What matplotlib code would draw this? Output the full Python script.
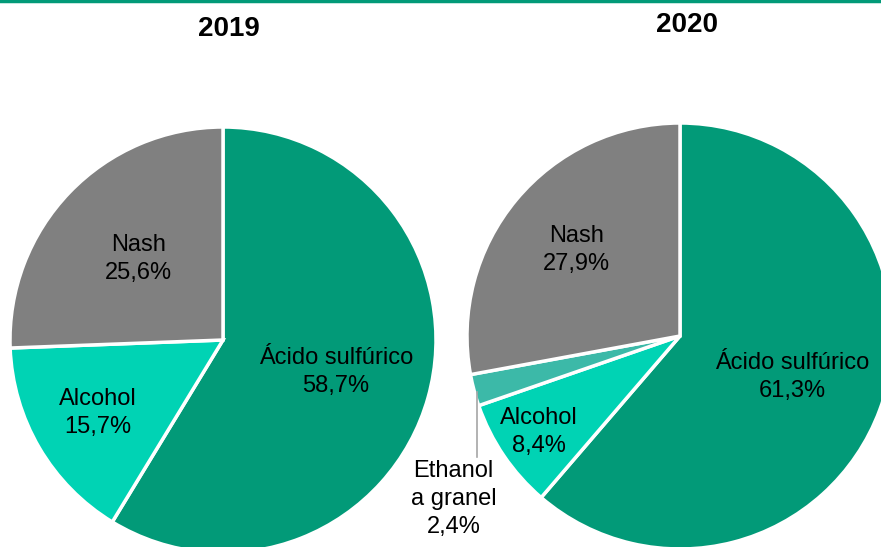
import numpy as np
import matplotlib.pyplot as plt
from matplotlib.lines import Line2D

plt.rcParams['font.family'] = ['Liberation Sans', 'DejaVu Sans']

years = ['2019', '2020']
labels_2019 = ['Ácido sulfúrico', 'Alcohol', 'Nash']
values_2019 = [58.7, 15.7, 25.6]
labels_2020 = ['Ácido sulfúrico', 'Alcohol', 'Ethanol\na granel', 'Nash']
values_2020 = [61.3, 8.4, 2.4, 27.9]

color_map = {
    'Ácido sulfúrico': '#029a78',
    'Alcohol': '#00d3b4',
    'Ethanol\na granel': '#3cb9a8',
    'Nash': '#808080',
}


def fmt(v):
    return f'{v:.1f}%'.replace('.', ',')


def draw_pie(ax, labels, values, dists):
    wedges, _ = ax.pie(values, colors=[color_map[l] for l in labels],
                       startangle=90, counterclock=False, radius=1,
                       wedgeprops=dict(edgecolor='white', linewidth=2.5))
    ax.set_xlim(-1, 1)
    ax.set_ylim(-1, 1)
    for w, lab, v, d in zip(wedges, labels, values, dists):
        if d is None:
            continue
        ang = np.deg2rad((w.theta1 + w.theta2) / 2)
        ax.text(d * np.cos(ang), d * np.sin(ang), f'{lab}\n{fmt(v)}',
                ha='center', va='center', fontsize=17, linespacing=1.35)
    return wedges


fig = plt.figure(figsize=(8.81, 5.47), dpi=100)

# top green rule
fig.add_artist(Line2D([0, 1], [0.9975, 0.9975], transform=fig.transFigure,
                      color='#029a78', linewidth=2.5))

ax1 = fig.add_axes([10 / 881, -6 / 547, 426 / 881, 426 / 547])
draw_pie(ax1, labels_2019, values_2019, [0.55, 0.68, 0.55])

ax2 = fig.add_axes([467 / 881, -2 / 547, 426 / 881, 426 / 547])
wedges = draw_pie(ax2, labels_2020, values_2020, [0.56, 0.80, None, 0.63])

# ethanol label outside with leader line
w = wedges[2]
ang = np.deg2rad((w.theta1 + w.theta2) / 2)
x0, y0 = 0.985 * np.cos(ang), 1.0 * np.sin(ang) - 0.01
ax2.plot([x0, x0], [y0, -0.57], color='#a6a6a6', linewidth=1.2,
         clip_on=False)
ax2.text(x0 - 0.11, -0.765, f'{labels_2020[2]}\n{fmt(values_2020[2])}',
         ha='center', va='center', fontsize=17, linespacing=1.35,
         clip_on=False)

fig.text(229 / 881, 1 - 28.5 / 547, years[0], ha='center', va='center',
         fontsize=20, fontweight='bold')
fig.text(687 / 881, 1 - 25 / 547, years[1], ha='center', va='center',
         fontsize=20, fontweight='bold')

fig.savefig('out.png', dpi=100)
